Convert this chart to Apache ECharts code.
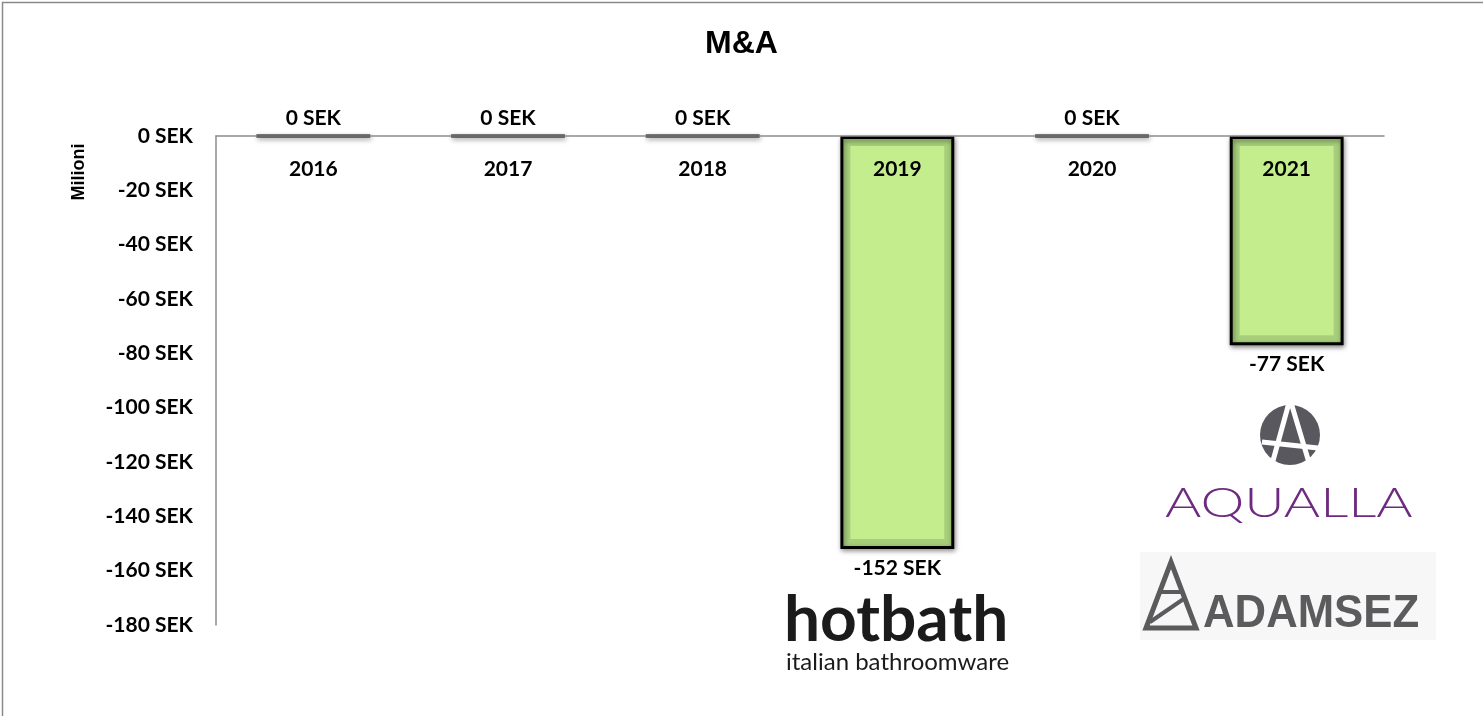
<!DOCTYPE html>
<html>
<head>
<meta charset="utf-8">
<script src="https://cdn.jsdelivr.net/npm/echarts@6/dist/echarts.min.js"></script>
<style>
html,body{margin:0;padding:0;background:#fff;}
#chart{width:1483px;height:716px;}
</style>
</head>
<body>
<div id="chart"></div>
<script>
const categories = ['2016','2017','2018','2019','2020','2021'];
const values = [0, 0, 0, -152, 0, -77];
const yTicks = [0,-20,-40,-60,-80,-100,-120,-140,-160,-180];
const titleText = 'M&A';
const axisName = 'Milioni';

const chart = echarts.init(document.getElementById('chart'));
const BAR_FRAC = 0.585;
const labelFont = 'Lato, "Open Sans", sans-serif';

chart.setOption({
  animation: false,
  backgroundColor: '#fff',
  title: {
    text: titleText, left: 'center', top: 23,
    textStyle: {fontFamily: '"Liberation Sans", Arial, sans-serif', fontWeight: 'bold', fontSize: 32, color: '#000'}
  },
  grid: {left: 216, right: 99, top: 136, bottom: 91},
  xAxis: {
    type: 'category', data: categories, position: 'top',
    axisTick: {show: false},
    axisLine: {onZero: false, lineStyle: {color: '#8c8c8c', width: 1.5}},
    axisLabel: {inside: true, fontFamily: labelFont, fontWeight: 'bold', fontSize: 21, color: '#000', margin: 23},
    z: 10
  },
  yAxis: {
    type: 'value', min: -180, max: 0, interval: 20,
    axisLine: {show: true, lineStyle: {color: '#8c8c8c', width: 1.5}},
    axisTick: {show: false},
    splitLine: {show: false},
    axisLabel: {
      fontFamily: labelFont, fontWeight: 'bold', fontSize: 21, color: '#000', margin: 23,
      formatter: v => (yTicks.indexOf(v) >= 0 ? v + ' SEK' : '')
    }
  },
  series: [
    {
      type: 'bar',
      barWidth: (BAR_FRAC * 100) + '%',
      data: values.map(v => ({
        value: v,
        label: {position: v < 0 ? 'bottom' : 'top', distance: v < 0 ? 9 : 6}
      })),
      itemStyle: {
        color: '#a7cf7b', borderColor: '#000', borderWidth: 3,
        shadowBlur: 5, shadowOffsetY: 2, shadowOffsetX: 1, shadowColor: 'rgba(0,0,0,0.45)'
      },
      label: {
        show: true, formatter: p => p.value + ' SEK',
        fontFamily: labelFont, fontWeight: 'bold', fontSize: 21, color: '#000'
      },
      z: 2
    },
    {
      type: 'custom',
      data: values.map((v, i) => [i, v]),
      renderItem: function (params, api) {
        const i = api.value(0), v = api.value(1);
        const p0 = api.coord([i, 0]);
        const p1 = api.coord([i, v]);
        const w = api.size([1, 0])[0] * BAR_FRAC;
        const inset = 10;
        const h = Math.abs(p1[1] - p0[1]);
        if (h < inset * 3) return null;
        return {
          type: 'rect',
          shape: {x: p0[0] - w / 2 + inset, y: Math.min(p0[1], p1[1]) + inset, width: w - 2 * inset, height: h - 2 * inset},
          style: {fill: '#c4ee8e'}
        };
      },
      z: 3,
      silent: true
    }
  ],
  graphic: [
    {type: 'rect', left: 0, top: 0, shape: {width: 1482, height: 715}, style: {fill: 'none', stroke: '#8a8a8a', lineWidth: 1.5}, silent: true},
    {type: 'text', x: 79, y: 172, rotation: Math.PI / 2, style: {text: axisName, font: 'bold 18px "Liberation Sans", Arial, sans-serif', fill: '#000', align: 'center', verticalAlign: 'middle'}},
    // hotbath logo
    {type: 'text', left: 784, top: 588, style: {text: 'hotbath', font: 'bold 64px Lato, "Open Sans", sans-serif', fill: '#1b1b1b'}},
    {type: 'text', left: 786, top: 650, style: {text: 'italian bathroomware', font: '24px Lato, "Open Sans", sans-serif', fill: '#1b1b1b'}},
    // Aqualla logo
    {type: 'circle', shape: {cx: 1290, cy: 435, r: 30}, style: {fill: '#58585e'}},
    {type: 'polyline', shape: {points: [[1271, 468], [1290, 399], [1310, 466]]}, style: {stroke: '#fff', lineWidth: 5, fill: 'none'}},
    {type: 'line', shape: {x1: 1262, y1: 442, x2: 1318, y2: 448}, style: {stroke: '#fff', lineWidth: 5}},
    {type: 'text', x: 1165, y: 482, scaleX: 1.32, style: {text: 'AQUALLA', font: '300 42px Lato, "Open Sans", sans-serif', fill: '#6e2a80'}},
    // Adamsez logo
    {type: 'rect', shape: {x: 1140, y: 552, width: 296, height: 88}, style: {fill: '#f7f7f7'}},
    {type: 'polygon', shape: {points: [[1146, 628], [1171, 562], [1196, 628]]}, style: {stroke: '#5b5b5d', lineWidth: 5, fill: 'none'}},
    {type: 'line', shape: {x1: 1160, y1: 592, x2: 1182, y2: 592}, style: {stroke: '#5b5b5d', lineWidth: 4}},
    {type: 'line', shape: {x1: 1150, y1: 622, x2: 1185, y2: 598}, style: {stroke: '#5b5b5d', lineWidth: 4}},
    {type: 'text', x: 1203, y: 591, scaleX: 0.93, style: {text: 'ADAMSEZ', font: 'bold 47px "Liberation Sans", Arial, sans-serif', fill: '#5b5b5d'}}
  ]
});
</script>
</body>
</html>
